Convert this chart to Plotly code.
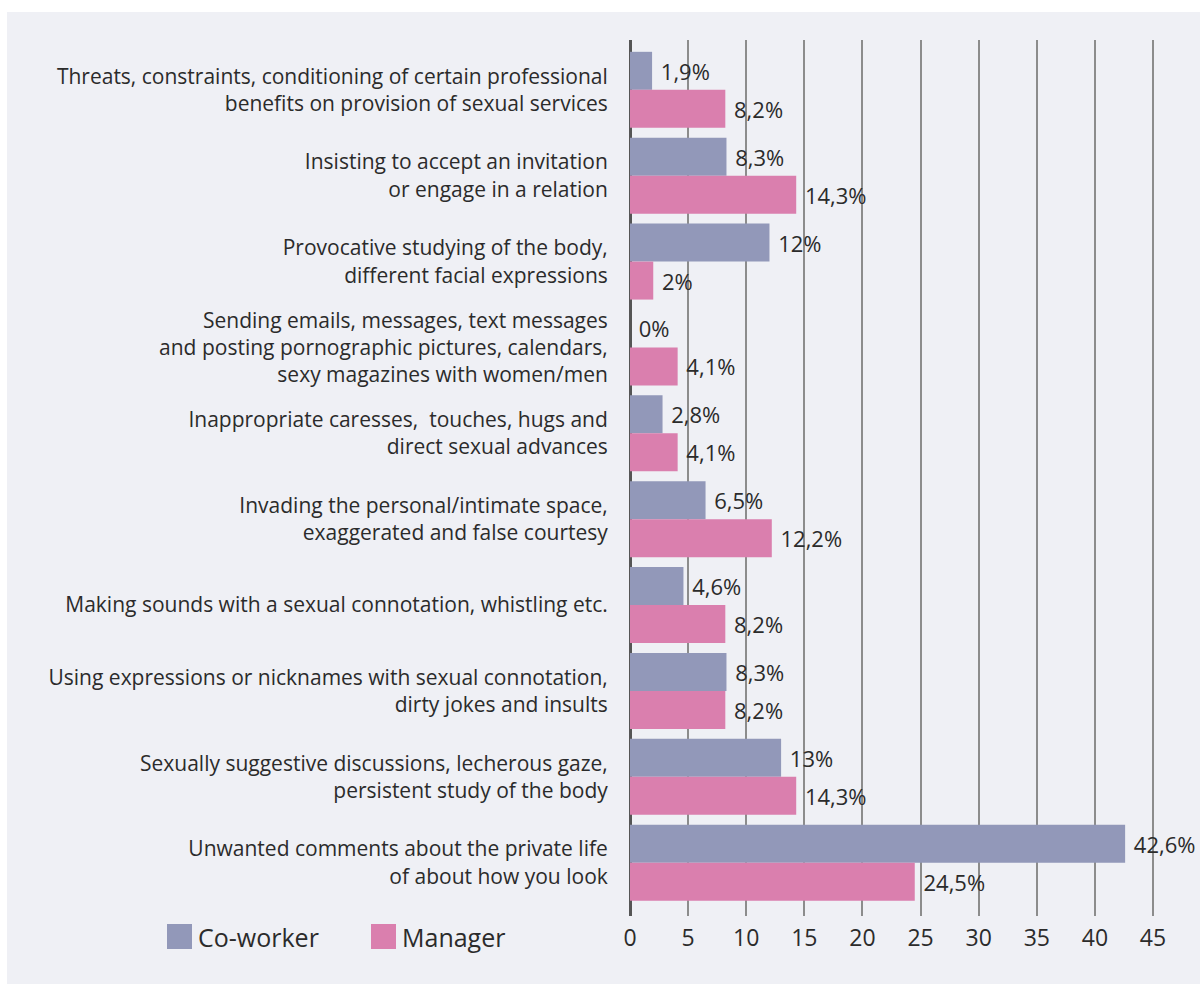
import plotly.graph_objects as go

# Harassment behaviours, top to bottom
categories = [
    "Threats, constraints, conditioning of certain professional<br>benefits on provision of sexual services",
    "Insisting to accept an invitation<br>or engage in a relation",
    "Provocative studying of the body,<br>different facial expressions",
    "Sending emails, messages, text messages<br>and posting pornographic pictures, calendars,<br>sexy magazines with women/men",
    "Inappropriate caresses,  touches, hugs and<br>direct sexual advances",
    "Invading the personal/intimate space,<br>exaggerated and false courtesy",
    "Making sounds with a sexual connotation, whistling etc.",
    "Using expressions or nicknames with sexual connotation,<br>dirty jokes and insults",
    "Sexually suggestive discussions, lecherous gaze,<br>persistent study of the body",
    "Unwanted comments about the private life<br>of about how you look",
]
coworker = [1.9, 8.3, 12, 0, 2.8, 6.5, 4.6, 8.3, 13, 42.6]
manager = [8.2, 14.3, 2, 4.1, 4.1, 12.2, 8.2, 8.2, 14.3, 24.5]
series_names = ["Co-worker", "Manager"]
x_ticks = [0, 5, 10, 15, 20, 25, 30, 35, 40, 45]

COLORS = ["#9298b9", "#da7fae"]
BG = "#eff0f5"
TEXT = "#2b2b2b"
FONT = "'Open Sans', Lato, sans-serif"


def pct(v):
    s = f"{v:.1f}".rstrip("0").rstrip(".")
    return s.replace(".", ",") + "%"


fig = go.Figure()
for name, vals, col in zip(series_names, [coworker, manager], COLORS):
    fig.add_trace(go.Bar(
        name=name,
        y=categories,
        x=vals,
        orientation="h",
        marker=dict(color=col, line=dict(width=0)),
        text=[" " + pct(v) for v in vals],
        textposition="outside",
        textfont=dict(size=22, color=TEXT, family=FONT),
        cliponaxis=False,
        showlegend=False,
    ))

# plot area geometry in pixels
W, H = 1200, 984
L, R, T, B = 630, 40, 40, 68
pw, ph = W - L - R, H - T - B


def px_x(p):
    return (p - L) / pw


def px_y(p):
    return (H - B - p) / ph


shapes = [
    # white outer frame strips
    dict(type="rect", xref="paper", yref="paper", x0=px_x(0), x1=px_x(7),
         y0=px_y(H), y1=px_y(0), fillcolor="white", line=dict(width=0), layer="above"),
    dict(type="rect", xref="paper", yref="paper", x0=px_x(0), x1=px_x(W),
         y0=px_y(12), y1=px_y(0), fillcolor="white", line=dict(width=0), layer="above"),
]

# legend swatches and labels
annotations = []
for i, (name, col) in enumerate(zip(series_names, COLORS)):
    x0 = 167 + i * 204
    shapes.append(dict(type="rect", xref="paper", yref="paper",
                       x0=px_x(x0), x1=px_x(x0 + 25), y0=px_y(949), y1=px_y(924),
                       fillcolor=col, line=dict(width=0)))
    annotations.append(dict(xref="paper", yref="paper", x=px_x(x0 + 29), y=px_y(937),
                            text=name, showarrow=False, xanchor="left", yanchor="middle",
                            font=dict(size=25, color=TEXT, family=FONT)))

fig.update_layout(
    width=W, height=H,
    margin=dict(l=L, r=R, t=T, b=B, pad=0),
    paper_bgcolor=BG, plot_bgcolor=BG,
    barmode="group", bargap=0.115, bargroupgap=0,
    font=dict(family=FONT, color=TEXT),
    shapes=shapes,
    annotations=annotations,
    xaxis=dict(
        range=[0, 45.6], tickvals=x_ticks, ticktext=[str(t) for t in x_ticks],
        showgrid=True, gridcolor="#8c8c8c", gridwidth=1.5,
        zeroline=True, zerolinecolor="#555555", zerolinewidth=2.5,
        showline=False, ticks="", ticklabelstandoff=6,
        tickfont=dict(size=23, color=TEXT, family=FONT),
        fixedrange=True,
    ),
    yaxis=dict(
        categoryorder="array", categoryarray=categories,
        range=[9.62, -0.58],
        showgrid=False, zeroline=False, showline=False,
        ticks="outside", ticklen=17, tickcolor=BG,
        tickfont=dict(size=21, color=TEXT, family=FONT),
        fixedrange=True,
    ),
)

fig.write_html("out.html")
